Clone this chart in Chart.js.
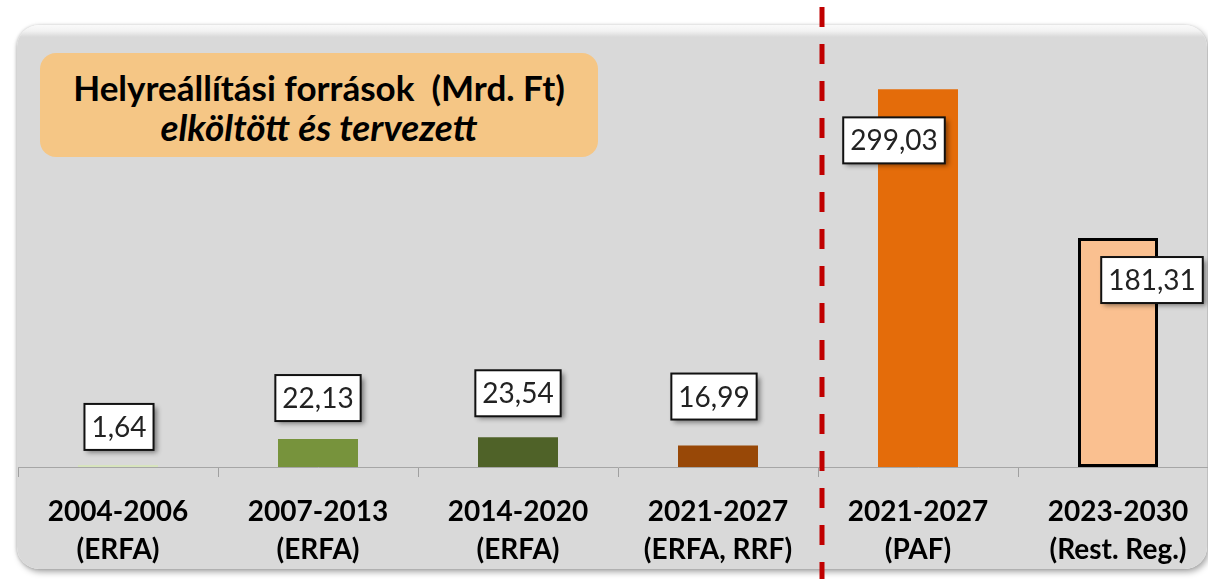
<!DOCTYPE html>
<html lang="hu">
<head>
    <title>Helyreállítási források</title>
    <meta charset="utf-8">
    <script src="https://cdn.jsdelivr.net/npm/chart.js@4.4.0/dist/chart.umd.min.js"></script>
    <style>
        html, body { margin: 0; padding: 0; background: #fff; overflow: hidden; width: 1208px; height: 579px; }
        #panel {
            position: absolute; left: 17px; top: 25px; width: 1190px; height: 544px;
            background: linear-gradient(to bottom, #fafafa 0px, #f2f2f2 6px, #d9d9d9 12px, #d9d9d9 100%);
            border-radius: 22px;
            box-shadow: 2px 3px 6px rgba(0,0,0,0.35), -1px 0 3px rgba(0,0,0,0.15);
        }
        #titlebox {
            position: absolute; left: 40px; top: 53px; width: 558px; height: 104px;
            background: #f5c685; border-radius: 16px;
            font-family: Lato, "Open Sans", sans-serif; font-weight: bold; color: #000;
            text-align: center; font-size: 35px; line-height: 42px; padding-top: 13px; box-sizing: border-box;
        }
        #titlebox i { font-style: italic; font-size: 37px; position: relative; top: -2px; }
        #wrap { position: absolute; left: 0; top: 0; width: 1230px; height: 595px; }
    </style>
</head>
<body>
<div id="panel"></div>
<div id="titlebox">Helyreállítási források&nbsp; (Mrd. Ft)<br><i>elköltött és tervezett</i></div>
<div id="wrap"><canvas id="chart" width="1230" height="595"></canvas></div>
<script>
// data
const periods = [
    ["2004-2006", "(ERFA)"],
    ["2007-2013", "(ERFA)"],
    ["2014-2020", "(ERFA)"],
    ["2021-2027", "(ERFA, RRF)"],
    ["2021-2027", "(PAF)"],
    ["2023-2030", "(Rest. Reg.)"]
];
const amounts = [1.64, 22.13, 23.54, 16.99, 299.03, 181.31];
const valueLabels = ["1,64", "22,13", "23,54", "16,99", "299,03", "181,31"];

const barColors = ["#d7e4bd", "#77933c", "#4f6228", "#984807", "#e46c0a", "#fac090"];
const barBorders = [0, 0, 0, 0, 0, 3];
// label box offsets from the bar top (px)
const labelDx = [1, 0, 0, -4, -24, 34];
const labelDy = [-38, -41, -44, -49, 51, 42];

// value boxes with a shadow
const valueBoxes = {
    id: "valueBoxes",
    afterDatasetsDraw(chart) {
        const ctx = chart.ctx;
        const meta = chart.getDatasetMeta(0);
        ctx.save();
        ctx.font = "28px Lato, 'Open Sans', sans-serif";
        ctx.textAlign = "center";
        ctx.textBaseline = "middle";
        meta.data.forEach((bar, i) => {
            const cx = bar.x + labelDx[i];
            const cy = bar.y + labelDy[i];
            const w = ctx.measureText(valueLabels[i]).width + 14;
            const h = 46;
            ctx.save();
            ctx.shadowColor = "rgba(0,0,0,0.45)";
            ctx.shadowBlur = 5;
            ctx.shadowOffsetX = 3;
            ctx.shadowOffsetY = 3;
            ctx.fillStyle = "#fff";
            ctx.fillRect(cx - w / 2, cy - h / 2, w, h);
            ctx.restore();
            ctx.lineWidth = 2;
            ctx.strokeStyle = "#111";
            ctx.strokeRect(cx - w / 2, cy - h / 2, w, h);
            ctx.fillStyle = "#222";
            ctx.fillText(valueLabels[i], cx, cy + 1);
        });
        ctx.restore();
    }
};

// red dashed separator between the two groups
const separator = {
    id: "separator",
    afterDraw(chart) {
        const ctx = chart.ctx;
        const x = chart.scales.x;
        const px = (x.getPixelForValue(3) + x.getPixelForValue(4)) / 2 + 4;
        ctx.save();
        ctx.strokeStyle = "#c00000";
        ctx.lineWidth = 5;
        ctx.setLineDash([20, 17]);
        ctx.lineDashOffset = -7;
        ctx.beginPath();
        ctx.moveTo(px, 0);
        ctx.lineTo(px, chart.height);
        ctx.stroke();
        ctx.restore();
    }
};

new Chart("chart", {
    type: "bar",
    data: {
        labels: periods,
        datasets: [{
            data: amounts,
            backgroundColor: barColors,
            borderColor: "#000",
            borderWidth: barBorders,
            borderSkipped: false,
            categoryPercentage: 0.8,
            barPercentage: 0.5
        }]
    },
    options: {
        responsive: false,
        animation: false,
        layout: { padding: { left: 18, right: 12, top: 25, bottom: 10 } },
        plugins: {
            legend: { display: false },
            tooltip: { enabled: false }
        },
        scales: {
            y: { display: false, min: 0, max: 350 },
            x: {
                border: { display: true, color: "#a6a6a6", width: 1 },
                grid: { drawOnChartArea: false, color: "#a0a0a0", tickLength: 10, offset: true },
                ticks: {
                    color: "#000",
                    padding: 16,
                    maxRotation: 0,
                    autoSkip: false,
                    font: { family: "Lato, 'Open Sans', sans-serif", size: 28, weight: "bold", lineHeight: "38px" }
                }
            }
        }
    },
    plugins: [valueBoxes, separator]
});
</script>
</body>
</html>
